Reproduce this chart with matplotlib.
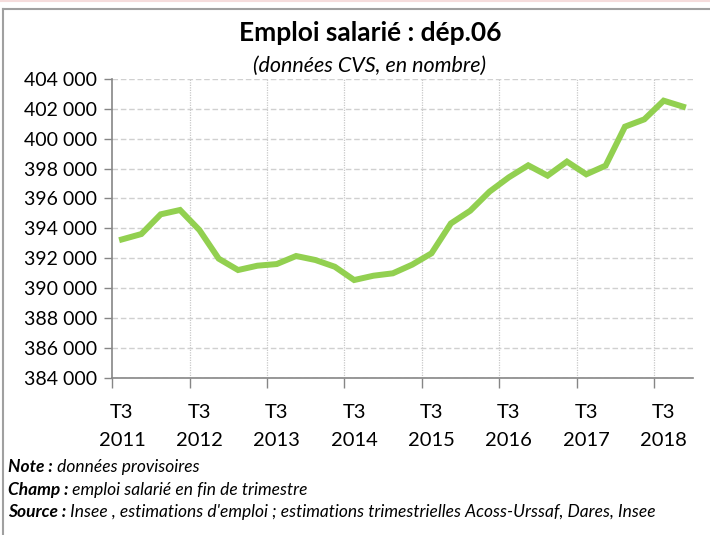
import matplotlib.pyplot as plt
from matplotlib.ticker import FuncFormatter
from matplotlib.lines import Line2D

# donnees trimestrielles T3 2011 -> T4 2018
trimestres = ["T3 2011", "T4 2011",
              "T1 2012", "T2 2012", "T3 2012", "T4 2012",
              "T1 2013", "T2 2013", "T3 2013", "T4 2013",
              "T1 2014", "T2 2014", "T3 2014", "T4 2014",
              "T1 2015", "T2 2015", "T3 2015", "T4 2015",
              "T1 2016", "T2 2016", "T3 2016", "T4 2016",
              "T1 2017", "T2 2017", "T3 2017", "T4 2017",
              "T1 2018", "T2 2018", "T3 2018", "T4 2018"]
emploi = [393260, 393620, 394940, 395230, 393890, 391970,
          391210, 391500, 391610, 392150, 391880, 391430,
          390540, 390830, 390990, 391570, 392330, 394330,
          395180, 396460, 397420, 398220, 397530, 398470,
          397620, 398200, 400810, 401300, 402550, 402150]
yticks = list(range(384000, 404001, 2000))

plt.rcParams['font.family'] = ['Lato', 'DejaVu Sans']

fig = plt.figure(figsize=(7.1, 5.35), dpi=100)
ax = fig.add_axes([0.1582, 0.294, 0.8174, 0.5583])

x = list(range(len(emploi)))
ax.plot(x, emploi, color='#92d050', lw=4.3, solid_joinstyle='miter', zorder=3)

ax.set_xlim(-0.5, len(emploi) - 0.5)
ax.set_ylim(384000, 404000)
ax.set_yticks(yticks)
ax.yaxis.set_major_formatter(FuncFormatter(lambda v, p: f"{int(v):,}".replace(",", " ")))

# ticks entre categories, etiquettes au centre (style Excel)
bornes = [i - 0.5 for i in range(0, len(emploi), 4)]
centres = [i for i in range(0, len(emploi), 4)]
ax.set_xticks(bornes)
ax.set_xticklabels([])
ax.set_xticks(centres, minor=True)
ax.set_xticklabels([trimestres[i].replace(" ", "\n") for i in centres], minor=True)
ax.tick_params(axis='x', which='major', direction='out', length=7, width=1, color='#868686')
ax.tick_params(axis='x', which='minor', length=0, pad=19, labelsize=14.5)
ax.tick_params(axis='y', direction='out', length=6, width=1, color='#868686', labelsize=14, pad=5)
for t in ax.get_xticklabels(minor=True):
    t.set_linespacing(1.75)

ax.grid(axis='y', color='#d0d0d0', ls=(0, (4, 2)), lw=1)
for b in bornes[1:]:
    ax.axvline(b, color='#c8c8c8', ls=(0, (1, 1)), lw=0.9, zorder=1)

for s in ['top', 'right']:
    ax.spines[s].set_visible(False)
for s in ['left', 'bottom']:
    ax.spines[s].set_color('#868686')
    ax.spines[s].set_linewidth(1.2)

fig.text(0.522, 0.938, "Emploi salarié : dép.06", ha='center', va='center',
         fontsize=19, fontweight='bold')
fig.text(0.52, 0.876, "(données CVS, en nombre)", ha='center', va='center',
         fontsize=15.5, style='italic')

# notes sous le graphique
notes = [("Note :", " données provisoires"),
         ("Champ :", " emploi salarié en fin de trimestre"),
         ("Source :", " Insee , estimations d'emploi ; estimations trimestrielles Acoss-Urssaf, Dares, Insee")]
ypos = [0.118, 0.075, 0.034]
for (tete, reste), yy in zip(notes, ypos):
    t = fig.text(0.011, yy, tete, fontsize=12.5, fontweight='bold', style='italic', va='baseline')
    ax.annotate(reste, xy=(1, 0), xycoords=t, va='bottom', fontsize=12.5, style='italic',
                annotation_clip=False)

# cadre du graphique
fig.add_artist(Line2D([3 / 710, 3 / 710], [0, 1 - 9 / 535], color='#a0a0a0', lw=1.5,
                      transform=fig.transFigure))
fig.add_artist(Line2D([3 / 710, 1], [1 - 9 / 535, 1 - 9 / 535], color='#a0a0a0', lw=1.5,
                      transform=fig.transFigure))
fig.add_artist(Line2D([0, 1], [1 - 1 / 535, 1 - 1 / 535], color='#f5dcdc', lw=1.5,
                      transform=fig.transFigure))

fig.savefig('out.png', dpi=100)
